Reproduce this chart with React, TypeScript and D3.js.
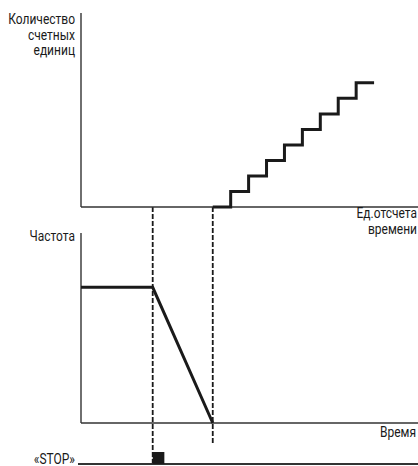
import { useRef, useEffect } from 'react';
import * as d3 from 'd3';

// time units on the shared horizontal axis
const timeDomain = [0, 18.8];
const stopTime = 4;
const zeroTime = 7.35;
const stopPulseWidth = 0.65;

// count of time units (staircase), [time, count]
const countData: [number, number][] = [
  [7.35, 0], [8.35, 1], [9.35, 2], [10.35, 3], [11.35, 4],
  [12.35, 5], [13.35, 6], [14.35, 7], [15.35, 8], [16.35, 8],
];
const countDomain = [0, 12.5];

// frequency, [time, value]
const freqData: [number, number][] = [[0, 50], [4, 50], [7.35, 0]];
const freqDomain = [0, 70];

const topLabel = ['Количество', 'счетных', 'единиц'];
const topXLabel = ['Ед.отсчета', 'времени'];
const bottomLabel = 'Частота';
const bottomXLabel = 'Время';
const stopLabel = '«STOP»';

export default function App() {
  const svgRef = useRef<SVGSVGElement>(null);
  const width = 418, height = 466;

  useEffect(() => {
    const svg = d3.select(svgRef.current);
    svg.selectAll('*').remove();
    const font = 'Roboto, "Noto Sans", sans-serif';
    const ink = '#1a1a1a';

    var x = d3.scaleLinear().domain(timeDomain).range([81, 418]);
    var yTop = d3.scaleLinear().domain(countDomain).range([207, 13]);
    var yBot = d3.scaleLinear().domain(freqDomain).range([423, 233]);
    const stopY = 464;

    // dashed markers
    svg.append('line')
      .attr('x1', x(stopTime)).attr('x2', x(stopTime))
      .attr('y1', yTop(0)).attr('y2', stopY)
      .attr('stroke', ink).attr('stroke-width', 1.8).attr('stroke-dasharray', '5,2');
    svg.append('line')
      .attr('x1', x(zeroTime)).attr('x2', x(zeroTime))
      .attr('y1', yTop(0)).attr('y2', 443)
      .attr('stroke', ink).attr('stroke-width', 1.8).attr('stroke-dasharray', '5,2');

    // axes top
    svg.append('line').attr('x1', x(0)).attr('x2', x(0)).attr('y1', yTop(countDomain[1])).attr('y2', yTop(0))
      .attr('stroke', '#333').attr('stroke-width', 1.4);
    svg.append('line').attr('x1', x(0)).attr('x2', width).attr('y1', yTop(0)).attr('y2', yTop(0))
      .attr('stroke', '#333').attr('stroke-width', 1.4);
    // axes bottom
    svg.append('line').attr('x1', x(0)).attr('x2', x(0)).attr('y1', yBot(freqDomain[1])).attr('y2', yBot(0))
      .attr('stroke', '#333').attr('stroke-width', 1.4);
    svg.append('line').attr('x1', x(0)).attr('x2', width).attr('y1', yBot(0)).attr('y2', yBot(0))
      .attr('stroke', '#333').attr('stroke-width', 1.4);

    // staircase
    const stair = d3.line<[number, number]>()
      .x(d => x(d[0])).y(d => yTop(d[1]))
      .curve(d3.curveStepAfter);
    svg.append('path').datum(countData)
      .attr('d', stair)
      .attr('fill', 'none').attr('stroke', ink).attr('stroke-width', 3);

    // frequency
    const freqLine = d3.line<[number, number]>().x(d => x(d[0])).y(d => yBot(d[1]));
    svg.append('path').datum(freqData)
      .attr('d', freqLine)
      .attr('fill', 'none').attr('stroke', ink).attr('stroke-width', 3).attr('stroke-linejoin', 'miter');

    // stop signal
    svg.append('line').attr('x1', 78).attr('x2', width).attr('y1', stopY).attr('y2', stopY)
      .attr('stroke', '#333').attr('stroke-width', 1.8);
    svg.append('rect')
      .attr('x', x(stopTime)).attr('y', stopY - 12)
      .attr('width', x(stopTime + stopPulseWidth) - x(stopTime)).attr('height', 12)
      .attr('fill', ink);

    // labels (condensed by horizontal scaling)
    const txt = svg.append('g').attr('font-family', font).attr('font-size', 15).attr('fill', ink);
    const label = (t: string, px: number, py: number) =>
      txt.append('text')
        .attr('transform', `translate(${px},${py}) scale(0.8,1)`)
        .attr('text-anchor', 'end').text(t);
    topLabel.forEach((t, i) => label(t, 75, 24 + i * 15.5));
    topXLabel.forEach((t, i) => label(t, 417, 218 + i * 15.5));
    label(bottomLabel, 75, 241);
    label(bottomXLabel, 416, 437);
    label(stopLabel, 75, 464);
  }, []);

  return (
    <div>
      <svg ref={svgRef} width={width} height={height}
        style={{ position: 'absolute', left: 0, top: 0, background: '#fff' }} />
    </div>
  );
}
